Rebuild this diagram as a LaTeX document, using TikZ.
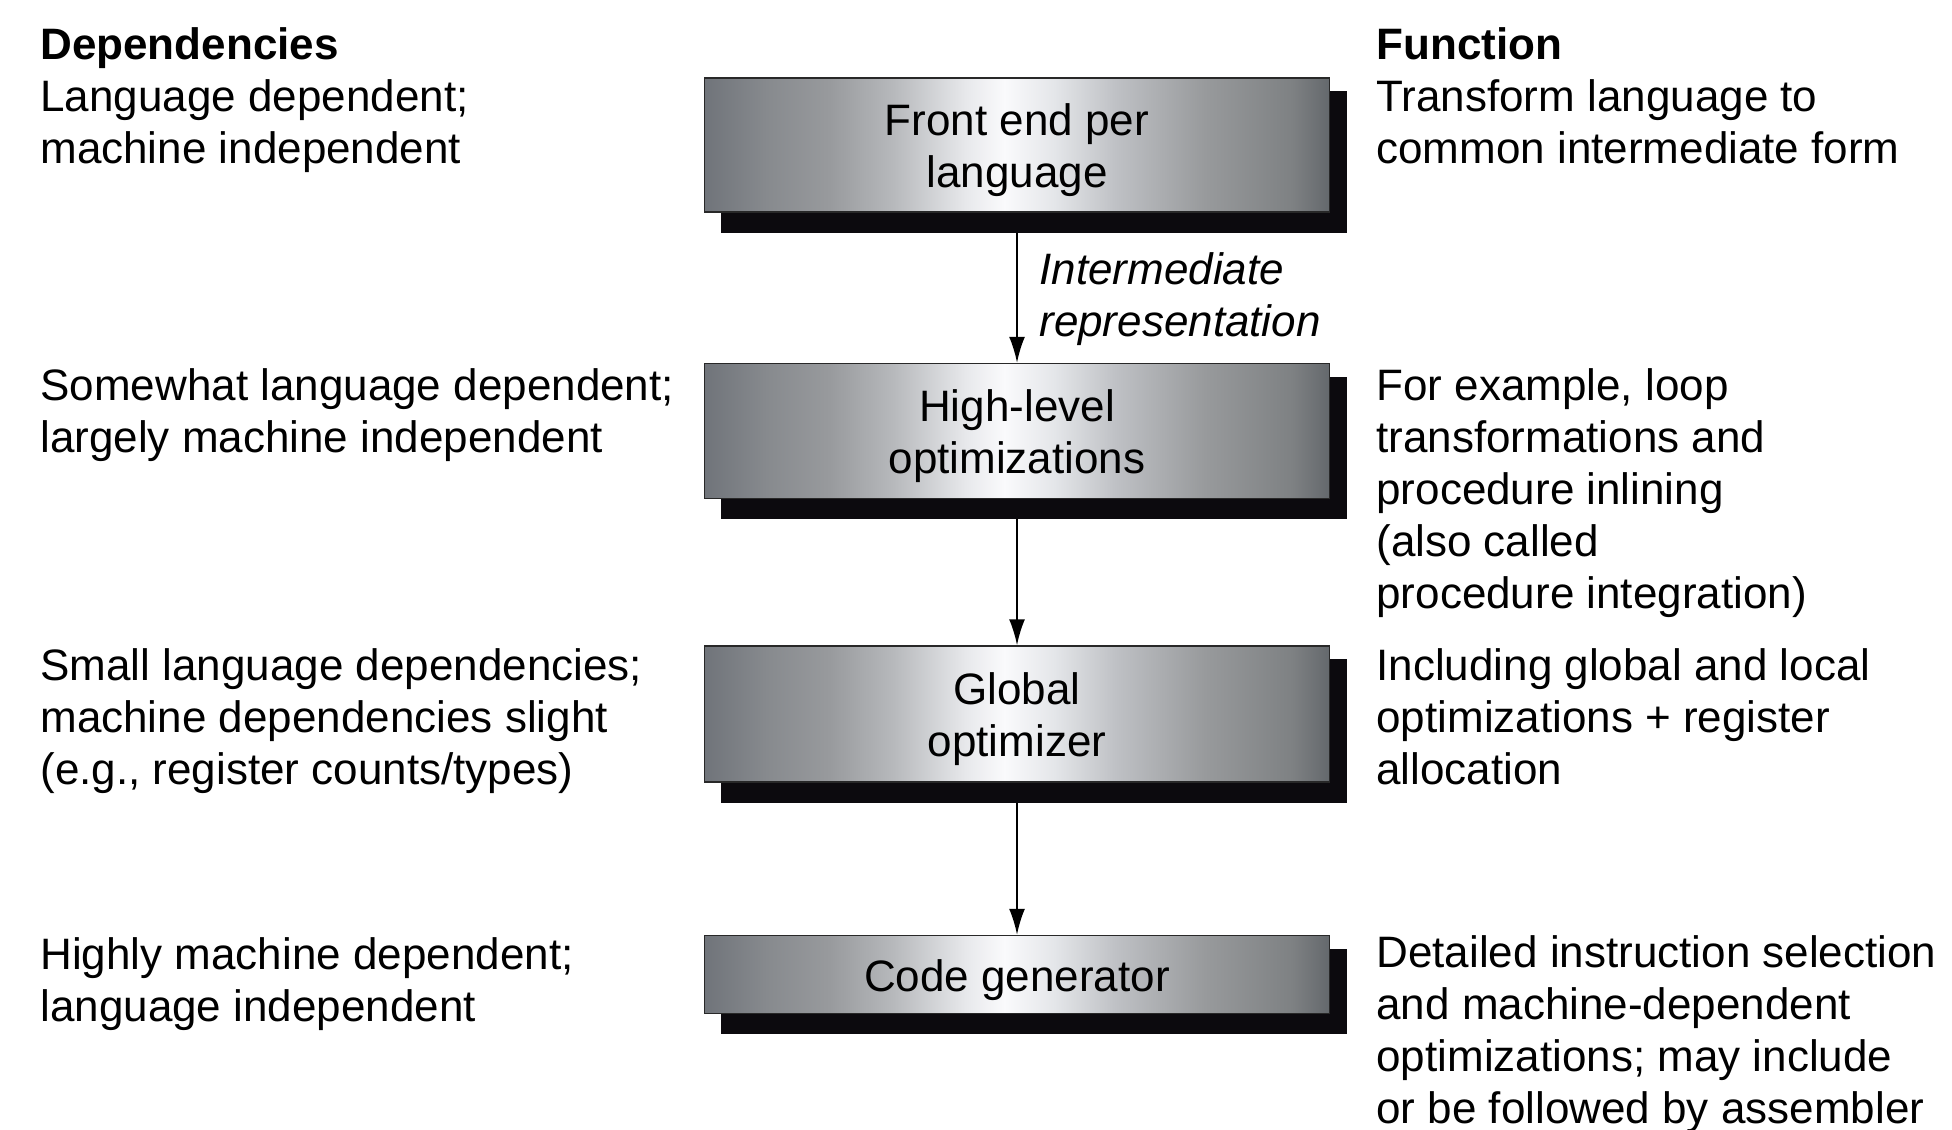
\documentclass[tikz,border=0pt]{standalone}
\usepackage{fontspec}
\setmainfont{Liberation Sans}
\usetikzlibrary{arrows.meta,backgrounds}
\definecolor{gA}{RGB}{112,116,122}
\definecolor{gB}{RGB}{135,138,142}
\definecolor{gC}{RGB}{152,154,157}
\definecolor{gD}{RGB}{182,184,187}
\definecolor{gE}{RGB}{232,233,236}
\definecolor{gF}{RGB}{250,250,252}
\definecolor{gG}{RGB}{228,230,233}
\definecolor{gH}{RGB}{190,192,196}
\definecolor{gI}{RGB}{152,154,156}
\definecolor{gJ}{RGB}{126,129,131}
\definecolor{gK}{RGB}{100,104,108}
\definecolor{shadowc}{RGB}{12,10,14}
\definecolor{edgec}{RGB}{40,40,40}
\pgfdeclarehorizontalshading{boxshade}{100bp}{%
color(0bp)=(gA); color(25bp)=(gA); color(30bp)=(gB); color(35bp)=(gC);
color(40bp)=(gD); color(46bp)=(gE); color(49bp)=(gF); color(53bp)=(gG);
color(58bp)=(gH); color(65bp)=(gI); color(72bp)=(gJ); color(75bp)=(gK);
color(100bp)=(gK)}
\newcommand{\boxup}{\rule{0pt}{21.5pt}}
\tikzset{
  txt/.style={font=\fontsize{22pt}{26pt}\selectfont, anchor=north west, inner sep=0pt, align=left},
  procbox/.style={draw=edgec, line width=0.75pt, shading=boxshade, minimum width=312.5pt,
    inner sep=0pt, align=center, font=\fontsize{22pt}{26pt}\selectfont},
  arr/.style={line width=1pt, -{Latex[length=13pt,width=8pt]}},
}
\begin{document}
\begin{tikzpicture}[x=0.5pt,y=-0.5pt]
\useasboundingbox (0,0) rectangle (1952,1129);

% boxes
\node[procbox, minimum height=67pt] (b1) at (1017,145) {\boxup Front end per\\language};
\node[procbox, minimum height=67.5pt] (b2) at (1017,431) {\boxup High-level\\optimizations};
\node[procbox, minimum height=68pt] (b3) at (1017,714) {\boxup Global\\optimizer};
\node[procbox, minimum height=39pt] (b4) at (1017,974.5) {\boxup Code generator};

\begin{pgfonlayer}{background}
\fill[white] (0,0) rectangle (1952,1129);
\foreach \b in {b1,b2,b3,b4}{
  \fill[shadowc] ([xshift=8.5pt,yshift=-7pt]\b.north west) rectangle ([xshift=8.5pt,yshift=-10pt]\b.south east);
}
\end{pgfonlayer}

% connectors
\draw[arr] ([yshift=-10pt]b1.south) -- (b2.north);
\draw[arr] ([yshift=-10pt]b2.south) -- (b3.north);
\draw[arr] ([yshift=-10pt]b3.south) -- (b4.north);

\node[txt] (ir) at (1039,248) {\strut\itshape Intermediate\\\itshape representation};

% headers
\node[txt] (hdep) at (40,23) {\strut\bfseries Dependencies};
\node[txt] (hfun) at (1376,23) {\strut\bfseries Function};

% left column
\node[txt] (l1) at (40,75) {\strut Language dependent;\\machine independent};
\node[txt] (l2) at (40,364) {\strut Somewhat language dependent;\\largely machine independent};
\node[txt] (l3) at (40,644) {\strut Small language dependencies;\\machine dependencies slight\\(e.g., register counts/types)};
\node[txt] (l4) at (40,933) {\strut Highly machine dependent;\\language independent};

% right column
\node[txt] (r1) at (1376,75) {\strut Transform language to\\common intermediate form};
\node[txt] (r2) at (1376,364) {\strut For example, loop\\transformations and\\procedure inlining\\(also called\\procedure integration)};
\node[txt] (r3) at (1376,644) {\strut Including global and local\\optimizations + register\\allocation};
\node[txt] (r4) at (1376,931) {\strut Detailed instruction selection\\and machine-dependent\\optimizations; may include\\or be followed by assembler};
\end{tikzpicture}
\end{document}
